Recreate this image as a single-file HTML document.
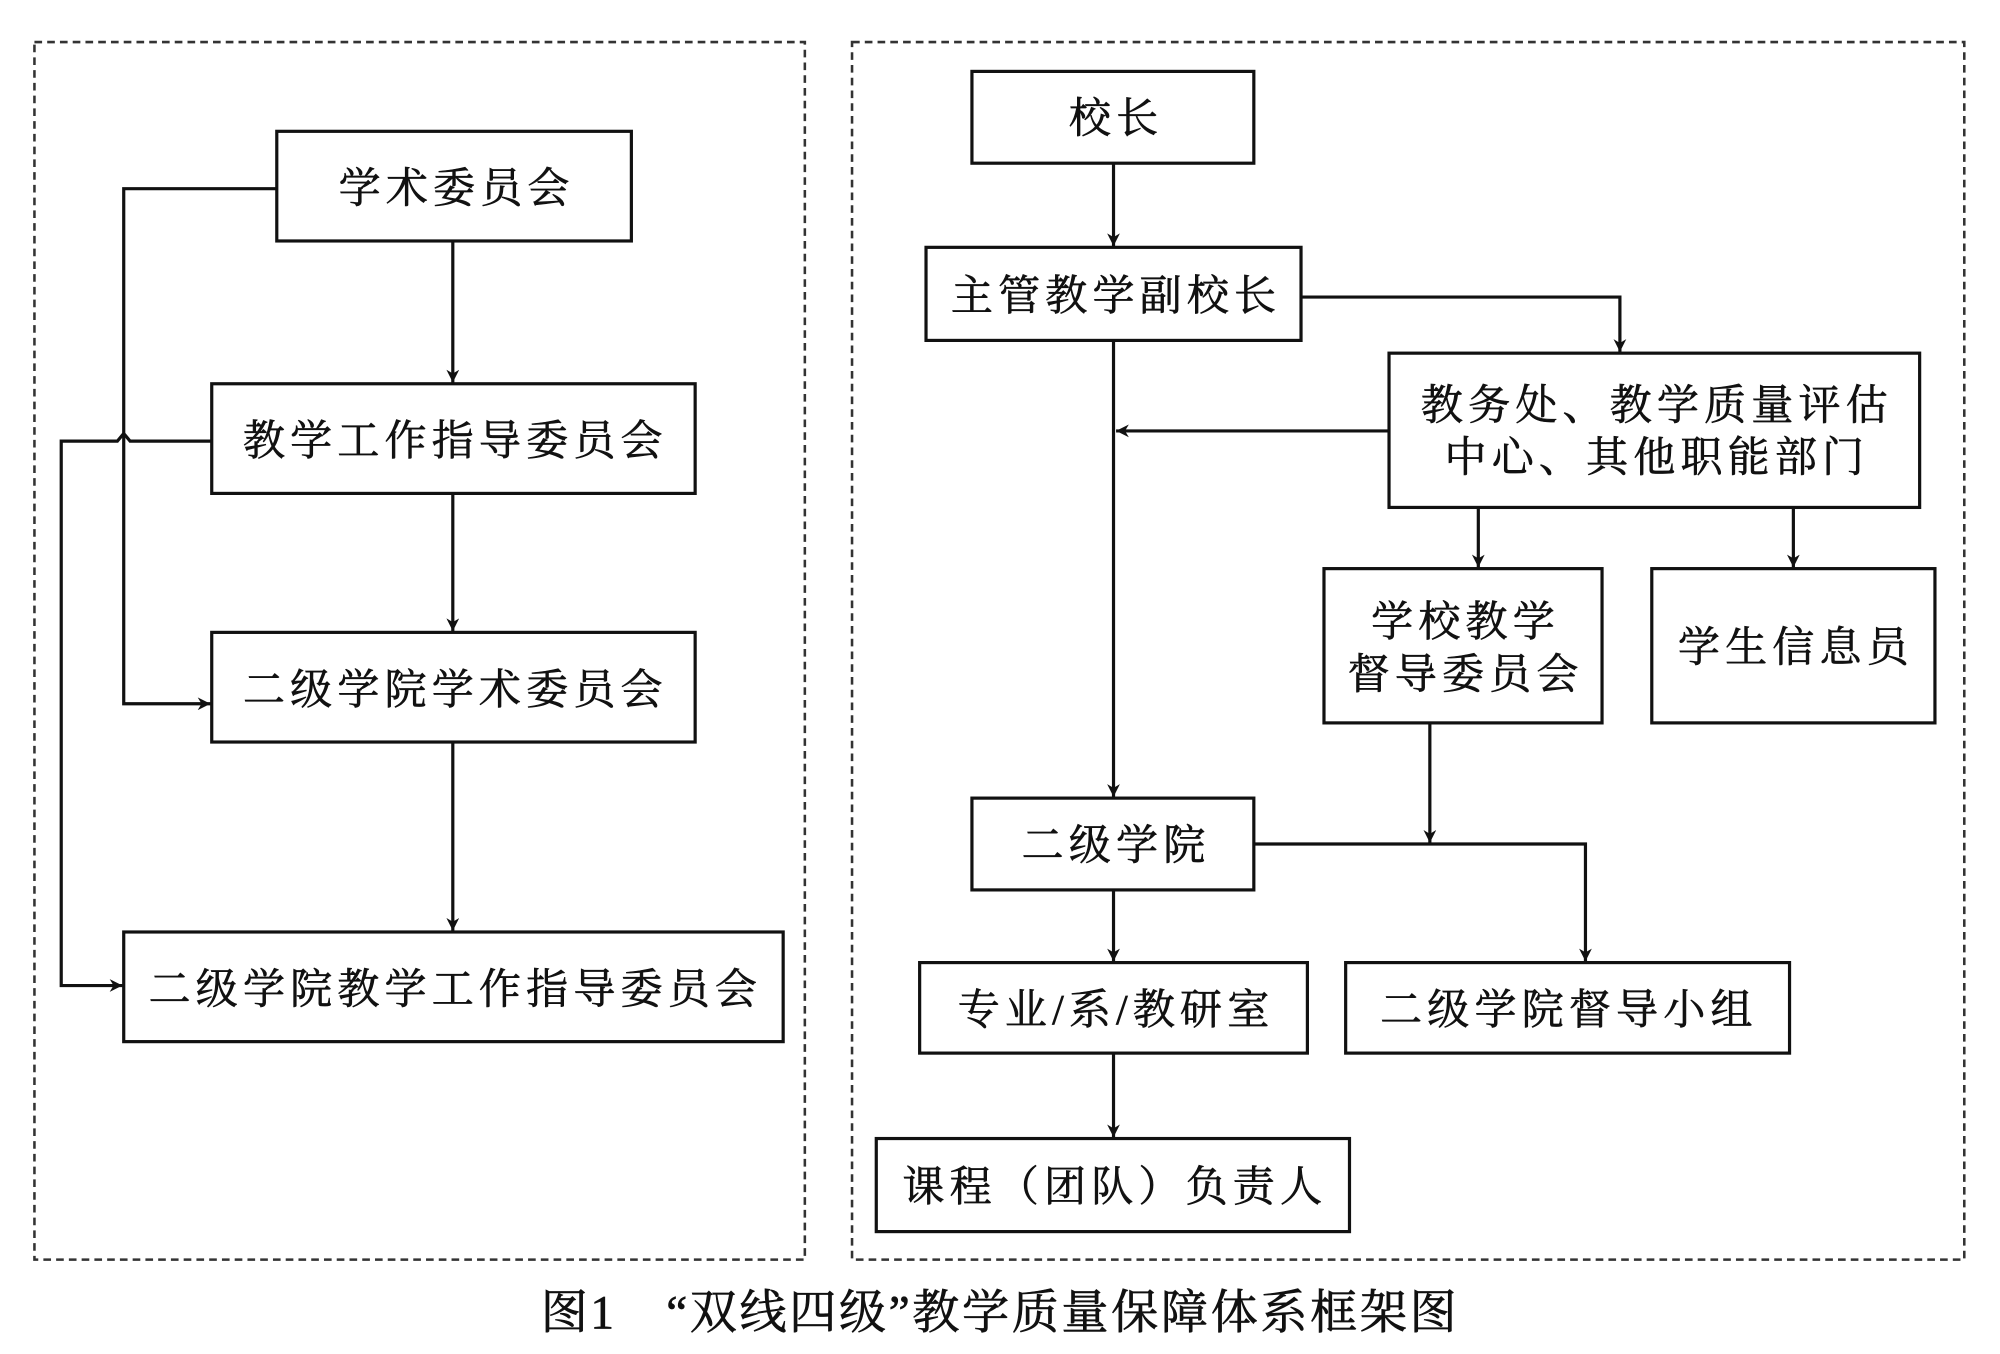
<!DOCTYPE html>
<html><head><meta charset="utf-8"><style>
html,body{margin:0;padding:0;background:#fff}
svg{display:block}
text{font-family:"Liberation Serif","Noto Serif CJK SC","Noto Sans CJK SC",serif;fill:#111;stroke:#111;stroke-width:0.5}
</style></head><body>
<svg width="2000" height="1354" viewBox="0 0 1568 1062" preserveAspectRatio="none" xmlns="http://www.w3.org/2000/svg">
<defs>
<marker id="a" viewBox="0 0 10 10" refX="10" refY="5" markerWidth="12" markerHeight="10" markerUnits="userSpaceOnUse" orient="auto">
<path d="M0,0 L10,5 L0,10 L3,5 Z" fill="#111"/></marker>
</defs>
<g fill="none" stroke="#333" stroke-width="2" stroke-dasharray="6,4">
<rect x="27" y="33" width="604" height="955"/>
<rect x="668" y="33" width="872" height="955"/>
</g>
<g fill="#fff" stroke="#111" stroke-width="2.5">
<rect x="217" y="103" width="278" height="86"/>
<rect x="166" y="301" width="379" height="86"/>
<rect x="166" y="496" width="379" height="86"/>
<rect x="97" y="731" width="517" height="86"/>
<rect x="762" y="56" width="221" height="72"/>
<rect x="726" y="194" width="294" height="73"/>
<rect x="1089" y="277" width="416" height="121"/>
<rect x="1038" y="446" width="218" height="121"/>
<rect x="1295" y="446" width="222" height="121"/>
<rect x="762" y="626" width="221" height="72"/>
<rect x="721" y="755" width="304" height="71"/>
<rect x="1055" y="755" width="348" height="71"/>
<rect x="687" y="893" width="371" height="73"/>
</g>
<g fill="none" stroke="#111" stroke-width="2.5">
<line x1="355" y1="189" x2="355" y2="300" marker-end="url(#a)"/>
<line x1="355" y1="387" x2="355" y2="495" marker-end="url(#a)"/>
<line x1="355" y1="582" x2="355" y2="730" marker-end="url(#a)"/>
<polyline points="217,148 97,148 97,552 165,552" marker-end="url(#a)"/>
<polyline points="166,346 102,346 97,340 92,346 48,346 48,773 96,773" marker-end="url(#a)"/>
<line x1="873" y1="128" x2="873" y2="193" marker-end="url(#a)"/>
<polyline points="1020,233 1270,233 1270,276" marker-end="url(#a)"/>
<line x1="873" y1="267" x2="873" y2="625" marker-end="url(#a)"/>
<line x1="1089" y1="338" x2="875" y2="338" marker-end="url(#a)"/>
<line x1="1159" y1="398" x2="1159" y2="445" marker-end="url(#a)"/>
<line x1="1406" y1="398" x2="1406" y2="445" marker-end="url(#a)"/>
<line x1="1121" y1="567" x2="1121" y2="661" marker-end="url(#a)"/>
<polyline points="983,662 1243,662 1243,754" marker-end="url(#a)"/>
<line x1="873" y1="698" x2="873" y2="754" marker-end="url(#a)"/>
<line x1="873" y1="826" x2="873" y2="892" marker-end="url(#a)"/>
</g>
<g font-size="33" text-anchor="middle" letter-spacing="4">
<text x="358" y="159">学术委员会</text>
<text x="357" y="357">教学工作指导委员会</text>
<text x="357" y="552">二级学院学术委员会</text>
<text x="357" y="787">二级学院教学工作指导委员会</text>
<text x="875" y="104">校长</text>
<text x="875" y="243">主管教学副校长</text>
<text x="1299" y="329">教务处、教学质量评估</text>
<text x="1299" y="370">中心、其他职能部门</text>
<text x="1149" y="499">学校教学</text>
<text x="1149" y="540">督导委员会</text>
<text x="1408" y="519">学生信息员</text>
<text x="875" y="674">二级学院</text>
<text x="875" y="803">专业/系/教研室</text>
<text x="1230" y="803">二级学院督导小组</text>
<text x="874" y="942">课程（团队）负责人</text>
</g>
<text x="784" y="1042" font-size="37" text-anchor="middle" letter-spacing="2">图1　“双线四级”教学质量保障体系框架图</text>
</svg>
</body></html>
